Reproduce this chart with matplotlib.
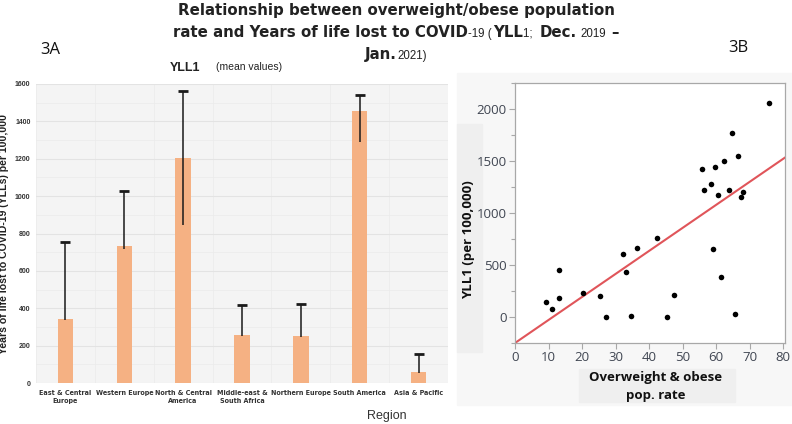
import matplotlib
matplotlib.use("Agg")
import matplotlib.pyplot as plt
import numpy as np
from matplotlib.patches import Rectangle

# ---------------- data ----------------
regions = ['East & Central\nEurope', 'Western Europe', 'North & Central\nAmerica',
           'Middle-east &\nSouth Africa', 'Northern Europe', 'South America', 'Asia & Pacific']
yll_mean = [342, 735, 1205, 255, 252, 1458, 57]
err_low = [338, 718, 845, 250, 247, 1288, 52]
err_high = [752, 1025, 1562, 418, 422, 1540, 155]
left_yticks = [0, 200, 400, 600, 800, 1000, 1200, 1400, 1600]

obese_rate = [75.6, 64.8, 66.4, 62.4, 59.5, 55.8, 58.4, 56.4, 63.7, 60.4, 68.1, 67.5,
              42.3, 36.3, 32.2, 33.2, 13.1, 59.1, 61.4, 20.2, 25.3, 13.1, 47.4,
              9.2, 11.1, 27.0, 34.5, 45.3, 65.7]
yll1 = [2056, 1767, 1551, 1503, 1445, 1420, 1278, 1218, 1224, 1172, 1198, 1153,
        758, 662, 601, 431, 456, 652, 385, 231, 199, 187, 212,
        145, 81, 4, 13, 0, 29]
fit_intercept = -250
fit_slope = 22.15
right_xticks = [0, 10, 20, 30, 40, 50, 60, 70, 80]
right_yticks = [0, 500, 1000, 1500, 2000]

W, H = 792, 424
fig = plt.figure(figsize=(W / 100, H / 100), dpi=100)
fig.patch.set_facecolor('white')

def fx(px):
    return px / W

def fy(py):
    return 1 - py / H

arial = ['Liberation Sans', 'DejaVu Sans']
segoe = ['Open Sans', 'DejaVu Sans']

# ---------------- left panel ----------------
axL = fig.add_axes([fx(36), fy(383), fx(448 - 36), fy(84) - fy(383)], zorder=2)
axL.set_facecolor('#f4f4f4')
x = np.arange(len(regions))
axL.set_xlim(-0.5, len(regions) - 0.5)
axL.set_ylim(0, 1600)
axL.set_yticks(left_yticks)
axL.set_yticks(np.arange(0, 1601, 100), minor=True)
axL.set_xticks(x)
axL.set_xticks(np.arange(-0.5, len(regions), 0.5), minor=True)
axL.grid(True, which='major', axis='y', color='#e3e3e3', lw=0.8)
axL.grid(True, which='minor', axis='both', color='#ebebeb', lw=0.5)
for s in axL.spines.values():
    s.set_visible(False)
axL.tick_params(which='both', length=0)
axL.tick_params(axis='y', pad=4)
axL.set_axisbelow(True)
axL.bar(x, yll_mean, width=0.26, color='#f5b183', zorder=2)
axL.vlines(x, err_low, err_high, color='#1a1a1a', lw=1.1, zorder=3)
axL.plot(x, err_high, ls='none', marker='_', ms=7, mew=2.0, color='#1a1a1a', zorder=3)
axL.set_yticklabels([str(v) for v in left_yticks], fontsize=5, fontweight='bold',
                    family=arial, color='#333333')
axL.set_xticklabels(regions, fontsize=5.1, fontweight='bold', family=['DejaVu Sans'],
                    fontstretch='condensed', color='#333333', linespacing=1.35)
axL.tick_params(axis='x', pad=5)
axL.set_ylabel('Years of life lost to COVID-19 (YLLs) per 100,000', fontsize=7.6,
               fontweight='bold', family=arial, color='#222222')
axL.yaxis.set_label_coords(-0.066, 0.5)
fig.text(fx(387), fy(416), 'Region', fontsize=9, family=arial, fontstretch='condensed',
         color='#333333', ha='center', va='center')
fig.text(fx(185), fy(68), 'YLL1', fontsize=9, fontweight='bold', family=arial,
         color='#222222', ha='center', va='center')
fig.text(fx(249), fy(67), '(mean values)', fontsize=7.5, family=arial,
         color='#222222', ha='center', va='center')
fig.text(fx(50), fy(50), '3A', fontsize=12, family=segoe, color='#111111',
         ha='center', va='center')
fig.text(fx(738), fy(48), '3B', fontsize=12, family=segoe, color='#111111',
         ha='center', va='center')

# ---------------- right panel backgrounds ----------------
for (x0, y0, x1, y1, c) in [(457, 73, 792, 405, '#f7f7f7'),
                            (457, 124, 482, 352, '#efefef'),
                            (579, 369, 735, 402, '#efefef')]:
    fig.patches.append(Rectangle((fx(x0), fy(y1)), fx(x1 - x0), fy(y0) - fy(y1),
                                 transform=fig.transFigure, color=c, zorder=-5))

axR = fig.add_axes([fx(515), fy(343), fx(785 - 515), fy(83) - fy(343)], zorder=2)
axR.set_facecolor('white')
axR.set_xlim(0, 80.5)
axR.set_ylim(-250, 2250)
xx = np.array([0, 80.5])
axR.plot(xx, fit_intercept + fit_slope * xx, color='#e0555a', lw=1.5, zorder=2)
axR.scatter(obese_rate, yll1, s=16, color='black', zorder=3, linewidths=0)
for s in axR.spines.values():
    s.set_color('#a8a8a8')
    s.set_linewidth(0.9)
axR.set_xticks(right_xticks)
axR.set_yticks(right_yticks)
axR.set_yticks(np.arange(-250, 2251, 250), minor=True)
axR.tick_params(which='both', direction='out', color='#a8a8a8', length=4, width=0.8,
                labelsize=9.5, labelcolor='#404652', pad=2)
axR.tick_params(which='minor', length=3)
for lab in axR.get_xticklabels() + axR.get_yticklabels():
    lab.set_family(segoe)
fig.text(fx(469), fy(240), 'YLL1 (per 100,000)', rotation=90, fontsize=9.5,
         fontweight='bold', family=segoe, color='#111111', ha='center', va='center',
         zorder=3)
fig.text(fx(656), fy(377), 'Overweight & obese', fontsize=9.5, fontweight='bold',
         family=segoe, color='#111111', ha='center', va='center', zorder=3)
fig.text(fx(656), fy(396), 'pop. rate', fontsize=9.5, fontweight='bold',
         family=segoe, color='#111111', ha='center', va='center', zorder=3)

# ---------------- main title (rich text) ----------------
renderer = fig.canvas.get_renderer()
big = dict(fontsize=10.8, fontweight='bold', family=['DejaVu Sans'], color='#222222')
small = dict(fontsize=8.3, family=arial, color='#222222')

def rich_line(py, pieces):
    texts = []
    widths = []
    for txt, props, gap in pieces:
        t = fig.text(0, fy(py), txt, ha='left', va='baseline', **props)
        bb = t.get_window_extent(renderer)
        texts.append(t)
        widths.append(bb.width + gap)
    total = sum(widths)
    xpos = (W - total) / 2
    for t, w in zip(texts, widths):
        t.set_x(fx(xpos))
        xpos += w

rich_line(15, [('Relationship between overweight/obese population', big, 0)])
rich_line(37, [('rate and Years of life lost to COVID', big, 0),
               ('-19 (', small, 1),
               ('YLL', big, 0),
               ('1; ', small, 4),
               ('Dec.', big, 4),
               ('2019', small, 5),
               ('\u2013', big, 0)])
rich_line(59, [('Jan.', big, 0), ('2021)', small, 0)])

fig.savefig('out.png', dpi=100, facecolor='white')
